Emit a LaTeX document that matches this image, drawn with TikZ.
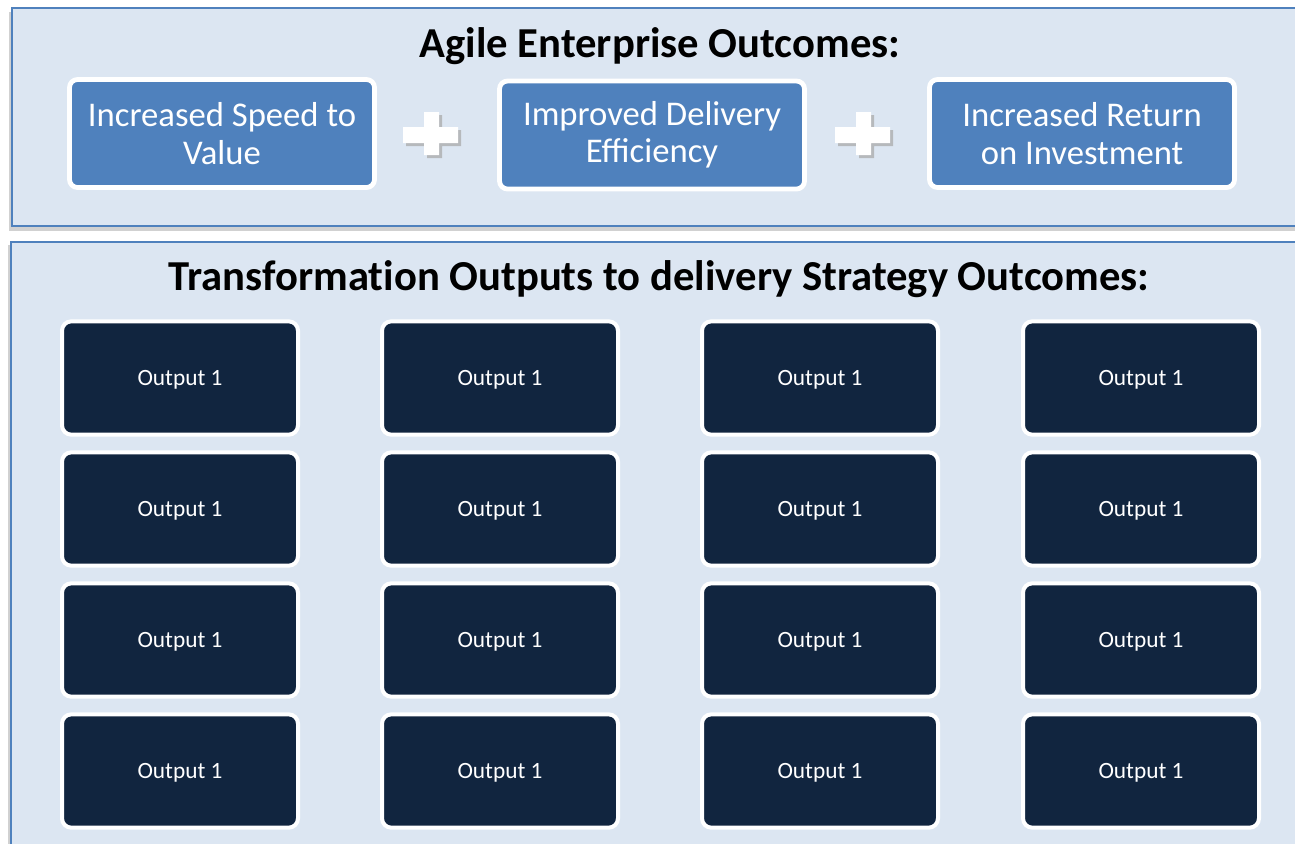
\documentclass[tikz,border=0pt]{standalone}
\usepackage{fontspec}
\setmainfont{Carlito}
\definecolor{panelFill}{RGB}{220,230,242}
\definecolor{panelLine}{RGB}{79,129,189}
\definecolor{outcomeFill}{RGB}{79,129,189}
\definecolor{outputFill}{RGB}{17,37,63}
\tikzset{
panel/.style={fill=panelFill, draw=panelLine, line width=1.5pt},
panel shadow/.style={fill=black!30, draw=none, opacity=0.6},
outcome/.style={rectangle, rounded corners=6pt, fill=outcomeFill, draw=white, line width=3.6pt,
  minimum width=228.75pt, minimum height=81pt, align=center, text=white, font=\fontsize{26}{28}\selectfont},
outputbox/.style={rectangle, rounded corners=7pt, fill=outputFill, draw=white, line width=3pt,
  minimum width=177pt, minimum height=85pt, text=white, text height=12pt, text depth=1pt, font=\fontsize{17.5}{20}\selectfont},
heading/.style={font=\bfseries\fontsize{32}{35}\selectfont\addfontfeature{RawFeature={-liga;-clig;-dlig}}, text=black}}
\tikzset{every picture/.style={line width=0.75pt}}

\begin{document}
\begin{tikzpicture}[x=0.75pt,y=0.75pt,yscale=-1,xscale=1]
\useasboundingbox (0,0) rectangle (1295,843);

%Shape: Panel shadows
\fill [panel shadow] (9,12) rectangle (1300,230.5) ;
\fill [panel shadow] (8,245) rectangle (1300,850) ;
%Shape: Top panel
\draw [panel] (12,8) rectangle (1300,226) ;
%Shape: Bottom panel
\draw [panel] (11,241.5) rectangle (1300,850) ;

% Text Node
\node [heading] (topTitle) at (660,46) {Agile Enterprise Outcomes:};
% Text Node
\node [heading] (botTitle) at (659,279) {Transformation Outputs to delivery Strategy Outcomes:};

% Outcome boxes
\node [outcome] (speed) at (222,133.5) {Increased Speed to\\Value};
\node [outcome] (delivery) at (652,135) {Improved Delivery\\Efficiency};
\node [outcome] (roi) at (1082,133.5) {Increased Return\\on Investment};

%Shape: Plus signs
\fill [black!35, opacity=0.7] (427,115) -- (442,115) -- (442,130) -- (461,130) -- (461,146) -- (442,146) -- (442,158) -- (427,158) -- (427,146) -- (406,146) -- (406,130) -- (427,130) -- cycle ;
\fill [white] (424,112) -- (439,112) -- (439,127) -- (458,127) -- (458,143) -- (439,143) -- (439,155) -- (424,155) -- (424,143) -- (403,143) -- (403,127) -- (424,127) -- cycle ;
\fill [black!35, opacity=0.7] (859,115) -- (874,115) -- (874,130) -- (893,130) -- (893,146) -- (874,146) -- (874,158) -- (859,158) -- (859,146) -- (838,146) -- (838,130) -- (859,130) -- cycle ;
\fill [white] (856,112) -- (871,112) -- (871,127) -- (890,127) -- (890,143) -- (871,143) -- (871,155) -- (856,155) -- (856,143) -- (835,143) -- (835,127) -- (856,127) -- cycle ;

% Output boxes, row 1
\node [outputbox] (outA1) at (180,378) {Output 1};
\node [outputbox] (outB1) at (500,378) {Output 1};
\node [outputbox] (outC1) at (820,378) {Output 1};
\node [outputbox] (outD1) at (1141,378) {Output 1};
% Output boxes, row 2
\node [outputbox] (outA2) at (180,509) {Output 1};
\node [outputbox] (outB2) at (500,509) {Output 1};
\node [outputbox] (outC2) at (820,509) {Output 1};
\node [outputbox] (outD2) at (1141,509) {Output 1};
% Output boxes, row 3
\node [outputbox] (outA3) at (180,640) {Output 1};
\node [outputbox] (outB3) at (500,640) {Output 1};
\node [outputbox] (outC3) at (820,640) {Output 1};
\node [outputbox] (outD3) at (1141,640) {Output 1};
% Output boxes, row 4
\node [outputbox] (outA4) at (180,771) {Output 1};
\node [outputbox] (outB4) at (500,771) {Output 1};
\node [outputbox] (outC4) at (820,771) {Output 1};
\node [outputbox] (outD4) at (1141,771) {Output 1};

\end{tikzpicture}
\end{document}
